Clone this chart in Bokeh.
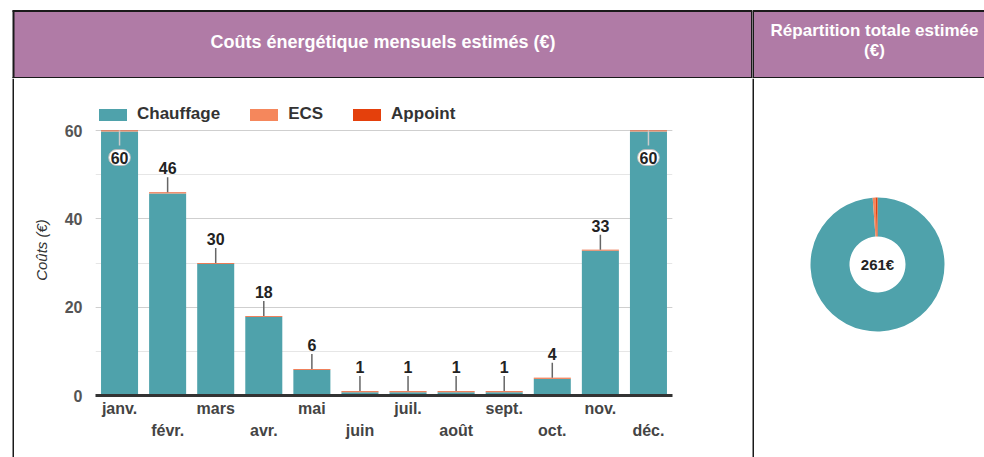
from bokeh.plotting import figure
from bokeh.layouts import row, column
from bokeh.models import Range1d, FixedTicker, SingleIntervalTicker, ColumnDataSource, LinearAxis
from bokeh.core.properties import value
from bokeh.embed import file_html
from bokeh.resources import INLINE
import math

# ---------------- data ----------------
months = ["janv.", "févr.", "mars", "avr.", "mai", "juin", "juil.", "août", "sept.", "oct.", "nov.", "déc."]
series = ["Chauffage", "ECS", "Appoint"]
chauffage = [59.75, 45.75, 29.75, 17.75, 5.75, 0.75, 0.75, 0.75, 0.75, 3.75, 32.75, 59.75]
ecs = [0.15, 0.15, 0.15, 0.15, 0.15, 0.15, 0.15, 0.15, 0.15, 0.15, 0.15, 0.15]
appoint = [0.1, 0.1, 0.1, 0.1, 0.1, 0.1, 0.1, 0.1, 0.1, 0.1, 0.1, 0.1]
y_ticks_interval = 20
title_left = "Coûts énergétique mensuels estimés (€)"
title_right = ["Répartition totale estimée", "(€)"]
y_label = "Coûts (€)"

# ---------------- styles ----------------
FONT = "Liberation Sans"
PURPLE = "#B07BA6"
TEAL = "#4FA2AB"
ORANGE = "#F5875C"
RED = "#E4400C"
BORDER = "#1a1a1a"
colors = [TEAL, ORANGE, RED]

totals = [round(c + e + a) for c, e, a in zip(chauffage, ecs, appoint)]
x_idx = list(range(len(months)))

W_EDGE, W_BARS, W_RIGHT = 14, 738, 232
W_LEFT = W_EDGE + W_BARS
H_HEAD, H_BODY = 78, 379


def deco(w, h, flip=True):
    p = figure(width=w, height=h, x_range=Range1d(0, w),
               y_range=Range1d(h, 0) if flip else Range1d(0, h),
               output_backend="svg", toolbar_location=None, min_border=0,
               x_axis_location=None, y_axis_location=None, frame_align=False)
    p.grid.visible = False
    p.outline_line_color = None
    p.background_fill_color = "white"
    p.border_fill_color = "white"
    return p


# ---------------- headers ----------------
hdrL = deco(W_LEFT, H_HEAD)
hdrL.quad(left=[13], right=[W_LEFT], top=[10], bottom=[H_HEAD], fill_color=PURPLE, line_color=None)
hdrL.segment(x0=[12, 13, 12, W_LEFT - 0.5], y0=[10.5, 10, H_HEAD - 0.5, 10],
             x1=[W_LEFT, 13, W_LEFT, W_LEFT - 0.5], y1=[10.5, H_HEAD, H_HEAD - 0.5, H_HEAD],
             line_color=BORDER, line_width=2)
hdrL.text(x=[(13 + W_LEFT) / 2], y=[41], text=[title_left], text_align="center",
          text_baseline="middle", text_color="white", text_font=value(FONT),
          text_font_size="18px", text_font_style="bold")

hdrR = deco(W_RIGHT, H_HEAD)
hdrR.quad(left=[0], right=[W_RIGHT], top=[10], bottom=[H_HEAD], fill_color=PURPLE, line_color=None)
hdrR.segment(x0=[0, 0, 0.5], y0=[10.5, H_HEAD - 0.5, 10],
             x1=[W_RIGHT, W_RIGHT, 0.5], y1=[10.5, H_HEAD - 0.5, H_HEAD],
             line_color=BORDER, line_width=2)
hdrR.text(x=[122, 122], y=[30, 50], text=title_right, text_align="center",
          text_baseline="middle", text_color="white", text_font=value(FONT),
          text_font_size="17px", text_font_style="bold")

# ---------------- left edge ----------------
edge = deco(W_EDGE, H_BODY)
edge.segment(x0=[13], y0=[0], x1=[13], y1=[H_BODY], line_color=BORDER, line_width=2)

# ---------------- bar chart ----------------
MB_TOP, MB_BOTTOM = 26, 62
frame_h = H_BODY - MB_TOP - MB_BOTTOM
y_end = frame_h * 60 / 265.0
ppu = frame_h / y_end  # pixels per unit

bars = figure(width=W_BARS, height=H_BODY,
              x_range=Range1d(-0.5, len(months) - 0.5),
              y_range=Range1d(0, y_end),
              output_backend="svg", toolbar_location=None, frame_align=False,
              min_border_left=81, min_border_right=80,
              min_border_top=MB_TOP, min_border_bottom=MB_BOTTOM)
bars.outline_line_color = None
bars.background_fill_color = "white"
bars.border_fill_color = "white"

src = ColumnDataSource(dict(x=x_idx, Chauffage=chauffage, ECS=ecs, Appoint=appoint))
bars.vbar_stack(series, x="x", width=0.77, color=colors, line_color=None,
                source=src, legend_label=series)

bars.xgrid.grid_line_color = None
bars.ygrid.grid_line_color = "#cfcfcf"
bars.ygrid.minor_grid_line_color = "#e6e6e6"

bars.yaxis.ticker = SingleIntervalTicker(interval=y_ticks_interval, num_minor_ticks=2)
bars.yaxis.axis_line_color = None
bars.yaxis.major_tick_line_color = None
bars.yaxis.major_tick_out = 0
bars.yaxis.minor_tick_line_color = None
bars.yaxis.minor_tick_out = 0
bars.yaxis.major_label_text_font = FONT
bars.yaxis.major_label_text_font_size = "16px"
bars.yaxis.major_label_text_font_style = "bold"
bars.yaxis.major_label_text_color = "#555555"
bars.yaxis.major_label_standoff = 13
bars.yaxis.axis_label = y_label
bars.yaxis.axis_label_text_font = FONT
bars.yaxis.axis_label_text_font_size = "15px"
bars.yaxis.axis_label_text_font_style = "italic"
bars.yaxis.axis_label_text_color = "#333333"
bars.yaxis.axis_label_standoff = 12

even = [i for i in x_idx if i % 2 == 0]
odd = [i for i in x_idx if i % 2 == 1]


def style_x(ax, ticks, standoff):
    ax.ticker = FixedTicker(ticks=ticks)
    ax.major_label_overrides = {i: months[i] for i in ticks}
    ax.major_tick_line_color = None
    ax.major_tick_out = 0
    ax.minor_tick_line_color = None
    ax.minor_tick_out = 0
    ax.major_label_text_font = FONT
    ax.major_label_text_font_size = "16px"
    ax.major_label_text_font_style = "bold"
    ax.major_label_text_color = "#444444"
    ax.major_label_standoff = standoff


xa = bars.xaxis[0]
style_x(xa, even, 4)
xa.axis_line_color = "#333333"
xa.axis_line_width = 3
xb = LinearAxis()
style_x(xb, odd, 2)
xb.axis_line_color = None
bars.add_layout(xb, "below")

lg = bars.legend[0]
lg.location = "top_left"
lg.orientation = "horizontal"
lg.background_fill_alpha = 0
lg.border_line_color = None
lg.margin = 0
lg.padding = 0
lg.glyph_width = 35
lg.glyph_height = 15
lg.label_standoff = 7
lg.spacing = 26
lg.label_text_font = FONT
lg.label_text_font_size = "17px"
lg.label_text_font_style = "bold"
lg.label_text_color = "#333333"

# value labels with leader lines
inside = [t >= 55 for t in totals]
out_x = [x for x, f in zip(x_idx, inside) if not f]
out_t = [t for t, f in zip(totals, inside) if not f]
in_x = [x for x, f in zip(x_idx, inside) if f]
in_t = [t for t, f in zip(totals, inside) if f]
lead = 15 / ppu
bars.segment(x0=out_x, y0=out_t, x1=out_x, y1=[t + lead for t in out_t],
             line_color="#666666", line_width=1.5)
bars.segment(x0=in_x, y0=in_t, x1=in_x, y1=[t - lead for t in in_t],
             line_color="#cccccc", line_width=1.5)
bars.text(x=out_x, y=out_t, text=[str(t) for t in out_t], y_offset=-24,
          text_align="center", text_baseline="middle", text_color="#222222",
          text_font=value(FONT), text_font_size="16px", text_font_style="bold")
bars.text(x=in_x, y=in_t, text=[str(t) for t in in_t], y_offset=27,
          text_align="center", text_baseline="middle", text_color="#222222",
          text_font=value(FONT), text_font_size="16px", text_font_style="bold",
          background_fill_color="white", border_line_color="#bbbbbb",
          padding=2, border_radius=9)

# ---------------- donut ----------------
donut = deco(W_RIGHT, H_BODY, flip=False)
donut.segment(x0=[0.5], y0=[0], x1=[0.5], y1=[H_BODY], line_color=BORDER, line_width=2)
sums = [sum(chauffage), sum(ecs), sum(appoint)]
grand = sum(sums)
starts, ends = [], []
acc = 0.0
for s in sums:
    starts.append(math.pi / 2 - 2 * math.pi * (acc + s) / grand)
    ends.append(math.pi / 2 - 2 * math.pi * acc / grand)
    acc += s
cx, cy = 125, H_BODY - 186
donut.annular_wedge(x=[cx] * 3, y=[cy] * 3, inner_radius=28, outer_radius=67,
                    inner_radius_units="screen", outer_radius_units="screen",
                    start_angle=starts, end_angle=ends, fill_color=colors, line_color=None)
donut.text(x=[cx], y=[cy], text=[f"{round(grand)}€"], text_align="center",
           text_baseline="middle", text_color="#222222", text_font=value(FONT),
           text_font_size="15px", text_font_style="bold")

layout = column(row(hdrL, hdrR), row(edge, bars, donut))

open("out.html", "w").write(file_html(layout, INLINE))
